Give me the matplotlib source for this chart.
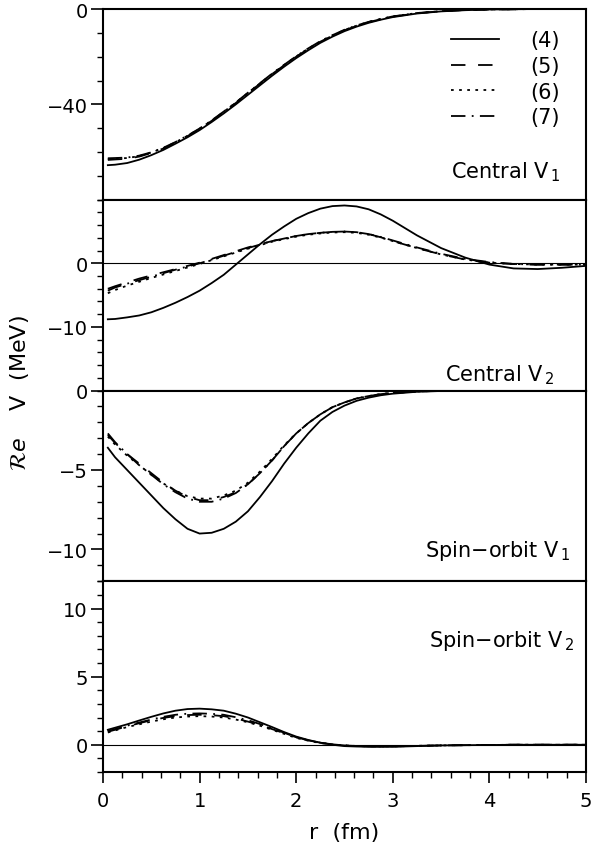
import numpy as np
import matplotlib
matplotlib.use('Agg')
import matplotlib.pyplot as plt
from matplotlib.ticker import MultipleLocator

plt.rcParams['font.family'] = ['DejaVu Sans']
plt.rcParams['font.size'] = 14

# radius grid (fm)
r = [0.05, 0.125, 0.25, 0.375, 0.5, 0.625, 0.75, 0.875, 1.0, 1.125, 1.25,
     1.375, 1.5, 1.625, 1.75, 1.875, 2.0, 2.125, 2.25, 2.375, 2.5, 2.625,
     2.75, 2.875, 3.0, 3.25, 3.5, 3.75, 4.0, 4.25, 4.5, 4.75, 5.0]

# Central V1
c1_4 = [-65.5, -65.3, -64.6, -63.2, -61.3, -59.1, -56.5, -53.8, -50.8, -47.4, -43.8,
        -40.0, -36.0, -32.0, -28.0, -24.2, -20.6, -17.3, -14.2, -11.6, -9.3, -7.4,
        -5.8, -4.5, -3.4, -1.9, -1.0, -0.5, -0.2, -0.1, 0.0, 0.0, 0.0]
c1_5 = [-63.3, -63.1, -62.8, -61.9, -60.4, -58.5, -56.0, -53.3, -50.3, -46.9, -43.2,
        -39.4, -35.3, -31.3, -27.3, -23.6, -20.0, -16.7, -13.7, -11.2, -8.9, -7.1,
        -5.5, -4.3, -3.2, -1.8, -0.9, -0.4, -0.2, -0.1, 0.0, 0.0, 0.0]
c1_6 = [-62.9, -62.8, -62.5, -61.7, -60.2, -58.3, -55.9, -53.2, -50.2, -46.8, -43.1,
        -39.3, -35.2, -31.2, -27.2, -23.5, -19.9, -16.6, -13.6, -11.1, -8.8, -7.0,
        -5.4, -4.2, -3.1, -1.7, -0.9, -0.4, -0.2, -0.1, 0.0, 0.0, 0.0]
c1_7 = [-62.6, -62.5, -62.3, -61.5, -60.1, -58.2, -55.8, -53.1, -50.1, -46.7, -43.0,
        -39.2, -35.1, -31.1, -27.1, -23.4, -19.8, -16.5, -13.5, -11.0, -8.7, -6.9,
        -5.4, -4.2, -3.1, -1.7, -0.9, -0.4, -0.2, -0.1, 0.0, 0.0, 0.0]

# Central V2
c2_4 = [-8.8, -8.75, -8.5, -8.2, -7.7, -7.0, -6.2, -5.3, -4.3, -3.1, -1.8,
        -0.2, 1.4, 3.0, 4.5, 5.8, 7.0, 7.9, 8.6, 9.0, 9.1, 8.95,
        8.5, 7.7, 6.7, 4.4, 2.4, 0.9, -0.2, -0.8, -0.9, -0.7, -0.4]
c2_5 = [-4.0, -3.6, -3.0, -2.4, -1.9, -1.4, -0.9, -0.4, 0.1, 0.7, 1.3,
        1.9, 2.5, 3.0, 3.5, 3.9, 4.3, 4.6, 4.8, 4.95, 5.0, 4.9,
        4.6, 4.1, 3.5, 2.4, 1.4, 0.6, 0.1, -0.1, -0.2, -0.2, -0.2]
c2_6 = [-4.7, -4.2, -3.5, -2.9, -2.3, -1.75, -1.2, -0.65, -0.1, 0.5, 1.1,
        1.7, 2.3, 2.85, 3.4, 3.8, 4.2, 4.5, 4.7, 4.85, 4.9, 4.8,
        4.5, 4.05, 3.5, 2.4, 1.4, 0.6, 0.1, -0.1, -0.2, -0.2, -0.2]
c2_7 = [-4.3, -3.8, -3.2, -2.65, -2.1, -1.55, -1.0, -0.5, 0.0, 0.6, 1.2,
        1.8, 2.4, 2.95, 3.5, 3.9, 4.3, 4.6, 4.8, 4.95, 5.0, 4.9,
        4.6, 4.15, 3.6, 2.5, 1.5, 0.7, 0.2, -0.1, -0.2, -0.2, -0.2]

# Spin-orbit V1
c3_4 = [-3.6, -4.2, -5.0, -5.8, -6.6, -7.4, -8.1, -8.7, -9.0, -8.95, -8.7,
        -8.25, -7.6, -6.7, -5.7, -4.6, -3.6, -2.7, -1.9, -1.35, -0.95, -0.65,
        -0.45, -0.3, -0.2, -0.08, -0.03, 0.0, 0.0, 0.0, 0.0, 0.0, 0.0]
c3_5 = [-2.8, -3.3, -4.0, -4.6, -5.2, -5.8, -6.3, -6.7, -6.9, -6.9, -6.7,
        -6.4, -5.9, -5.2, -4.4, -3.5, -2.7, -2.05, -1.5, -1.05, -0.75, -0.5,
        -0.35, -0.23, -0.15, -0.06, -0.02, 0.0, 0.0, 0.0, 0.0, 0.0, 0.0]
c3_6 = [-2.9, -3.4, -4.1, -4.7, -5.3, -5.85, -6.3, -6.65, -6.8, -6.8, -6.6,
        -6.3, -5.8, -5.1, -4.3, -3.45, -2.7, -2.05, -1.5, -1.05, -0.75, -0.5,
        -0.35, -0.23, -0.15, -0.06, -0.02, 0.0, 0.0, 0.0, 0.0, 0.0, 0.0]
c3_7 = [-2.7, -3.25, -4.0, -4.7, -5.3, -5.9, -6.4, -6.8, -7.0, -7.0, -6.8,
        -6.45, -5.9, -5.2, -4.4, -3.5, -2.7, -2.05, -1.5, -1.05, -0.75, -0.5,
        -0.35, -0.23, -0.15, -0.06, -0.02, 0.0, 0.0, 0.0, 0.0, 0.0, 0.0]

# Spin-orbit V2
c4_4 = [1.1, 1.25, 1.5, 1.78, 2.05, 2.3, 2.5, 2.62, 2.65, 2.6, 2.5,
        2.28, 2.0, 1.65, 1.3, 0.93, 0.6, 0.35, 0.15, 0.0, -0.1, -0.13,
        -0.15, -0.15, -0.15, -0.1, -0.05, -0.03, -0.02, 0.0, 0.0, 0.0, 0.0]
c4_5 = [0.95, 1.1, 1.35, 1.58, 1.8, 1.97, 2.1, 2.18, 2.2, 2.17, 2.1,
        1.93, 1.7, 1.45, 1.15, 0.85, 0.55, 0.32, 0.15, 0.03, -0.05, -0.09,
        -0.12, -0.12, -0.12, -0.08, -0.05, -0.03, -0.02, 0.0, 0.0, 0.0, 0.0]
c4_6 = [0.9, 1.05, 1.3, 1.5, 1.7, 1.87, 2.0, 2.07, 2.1, 2.07, 2.0,
        1.85, 1.65, 1.4, 1.1, 0.8, 0.5, 0.3, 0.12, 0.02, -0.05, -0.09,
        -0.12, -0.12, -0.12, -0.08, -0.05, -0.03, -0.02, 0.0, 0.0, 0.0, 0.0]
c4_7 = [1.0, 1.15, 1.4, 1.63, 1.85, 2.05, 2.2, 2.28, 2.3, 2.27, 2.2,
        2.02, 1.8, 1.52, 1.2, 0.88, 0.55, 0.32, 0.15, 0.03, -0.05, -0.09,
        -0.12, -0.12, -0.12, -0.08, -0.05, -0.03, -0.02, 0.0, 0.0, 0.0, 0.0]

labels = ['(4)', '(5)', '(6)', '(7)']
styles = [dict(linestyle='-'),
          dict(linestyle=(0, (8, 7))),
          dict(linestyle=(0, (1.5, 3))),
          dict(linestyle=(0, (8, 3.5, 1, 3.5)))]

panels = [
    dict(data=[c1_4, c1_5, c1_6, c1_7], ylim=(-80, 0), minor=10,
         ticks=[0, -40], title='Central V$_{\\,1}$', tx=0.946, ty=0.152, zero=False),
    dict(data=[c2_4, c2_5, c2_6, c2_7], ylim=(-20, 10), minor=2,
         ticks=[0, -10], title='Central V$_{\\,2}$', tx=0.935, ty=0.084, zero=True),
    dict(data=[c3_4, c3_5, c3_6, c3_7], ylim=(-12, 0), minor=1,
         ticks=[0, -5, -10], title='Spin$-$orbit V$_{\\,1}$', tx=0.967, ty=0.164, zero=False),
    dict(data=[c4_4, c4_5, c4_6, c4_7], ylim=(-2, 12), minor=1,
         ticks=[0, 5, 10], title='Spin$-$orbit V$_{\\,2}$', tx=0.975, ty=0.69, zero=True),
]

fig = plt.figure(figsize=(5.91, 8.54), dpi=100)
left, width = 103 / 591, 483 / 591
top_px, h_px = 10, 190.75
axes = []
for i, p in enumerate(panels):
    bottom = 1 - (top_px + (i + 1) * h_px) / 854
    ax = fig.add_axes([left, bottom, width, h_px / 854],
                      sharex=axes[0] if axes else None)
    axes.append(ax)
    for y, lab, st in zip(p['data'], labels, styles):
        ax.plot(r, y, color='black', lw=1.3, label=lab, **st)
    if p['zero']:
        ax.axhline(0, color='black', lw=0.8)
    ax.set_ylim(*p['ylim'])
    ax.set_yticks(p['ticks'])
    ax.yaxis.set_minor_locator(MultipleLocator(p['minor']))
    ax.tick_params(axis='y', which='major', direction='out', length=9, width=1.2,
                   pad=2, labelsize=14)
    ax.tick_params(axis='y', which='minor', direction='out', length=4.5, width=1.0)
    for s in ax.spines.values():
        s.set_linewidth(1.5)
    ax.text(p['tx'], p['ty'], p['title'], transform=ax.transAxes, ha='right',
            va='center', fontsize=15)
    if i < 3:
        ax.tick_params(axis='x', which='both', bottom=False, labelbottom=False)

ax = axes[-1]
ax.set_xlim(0, 5)
ax.xaxis.set_major_locator(MultipleLocator(1))
ax.xaxis.set_minor_locator(MultipleLocator(0.2))
ax.tick_params(axis='x', which='major', direction='out', length=8, width=1.2,
               pad=6, labelsize=14)
ax.tick_params(axis='x', which='minor', direction='out', length=4, width=1.0)
ax.set_xlabel('r  (fm)', fontsize=16, labelpad=8)

axes[0].legend(loc='upper right', bbox_to_anchor=(0.946, 0.89), frameon=False,
               handlelength=2.3, handletextpad=1.5, labelspacing=0.28,
               borderpad=0, borderaxespad=0, fontsize=15)

fig.text(0.033, 0.54, r'$\mathcal{R}\mathit{e}$    V  (MeV)', rotation=90,
         ha='center', va='center', fontsize=16)

fig.savefig('out.png', dpi=100)
